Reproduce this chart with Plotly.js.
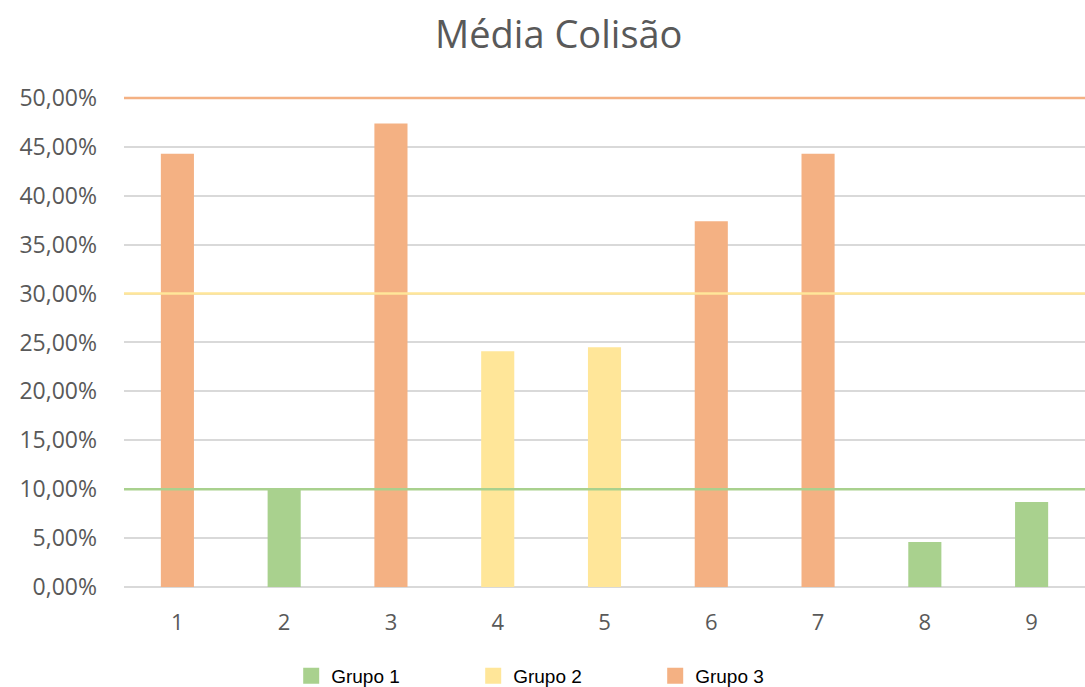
<!DOCTYPE html>
<html>
<head>
<meta charset="utf-8">
<script src="https://cdn.plot.ly/plotly-3.0.1.min.js"></script>
<style>html,body{margin:0;padding:0;background:#fff;}#chart{width:1085px;height:687px;}</style>
</head>
<body>
<div id="chart"></div>
<script>
const categories = ['1','2','3','4','5','6','7','8','9'];
const groupNames = ['Grupo 1','Grupo 2','Grupo 3'];
const groupColors = ['#A9D18E','#FFE699','#F4B183'];
const group1X = ['2','8','9'];
const group1Y = [0.100, 0.046, 0.087];
const group2X = ['4','5'];
const group2Y = [0.241, 0.245];
const group3X = ['1','3','6','7'];
const group3Y = [0.443, 0.474, 0.374, 0.443];
const thresholds = [0.10, 0.30, 0.50];
const thresholdColors = ['#A9D18E','#FFE699','#F4B183'];

const groupsX = [group1X, group2X, group3X];
const groupsY = [group1Y, group2Y, group3Y];
const traces = groupsX.map((gx, i) => ({
  type: 'bar', x: gx, y: groupsY[i], name: groupNames[i],
  marker: {color: groupColors[i]}, width: 0.31, hoverinfo: 'x+y', showlegend: false
}));
groupNames.forEach((n, i) => traces.push({
  type: 'scatter', mode: 'markers', x: [null], y: [null], name: n,
  marker: {symbol: 'square', size: 18, color: groupColors[i]}, showlegend: true
}));

const shapes = thresholds.map((t, i) => ({
  type: 'line', xref: 'paper', x0: 0, x1: 1, yref: 'y', y0: t, y1: t,
  line: {color: thresholdColors[i], width: 2.5}, layer: 'above'
}));

const layout = {
  width: 1085, height: 687,
  margin: {l: 124, r: 0, t: 96, b: 100},
  paper_bgcolor: '#fff', plot_bgcolor: '#fff',
  separators: ',.',
  barmode: 'overlay',
  title: {text: 'Média Colisão', x: 0.515, xref: 'container', xanchor: 'center', y: 0.95, yanchor: 'middle',
          font: {family: 'Open Sans, sans-serif', size: 38, color: '#595959'}},
  xaxis: {type: 'category', categoryorder: 'array', categoryarray: categories, range: [-0.5, 8.5],
          showgrid: false, zeroline: false, showline: false, ticks: '', ticklabelstandoff: 20,
          tickfont: {family: 'Open Sans, sans-serif', size: 22, color: '#595959'}},
  yaxis: {range: [0, 0.502], tickvals: [0,0.05,0.1,0.15,0.2,0.25,0.3,0.35,0.4,0.45,0.5], tickformat: '.2%', showgrid: true, gridcolor: '#D9D9D9', gridwidth: 1.5,
          zeroline: true, zerolinecolor: '#D9D9D9', zerolinewidth: 1.5, showline: false, ticks: '', ticklabelstandoff: 26,
          tickfont: {family: 'Open Sans, sans-serif', size: 23, color: '#595959'}},
  shapes: shapes,
  showlegend: true,
  legend: {orientation: 'h', x: 0.52, xanchor: 'center', xref: 'container', y: 0.016, yref: 'container', yanchor: 'middle',
           entrywidth: 137, itemsizing: 'trace', font: {family: 'Liberation Sans, Arial, sans-serif', size: 19, color: '#000'}, itemwidth: 30}
};

Plotly.newPlot('chart', traces, layout, {displayModeBar: false});
</script>
</body>
</html>
